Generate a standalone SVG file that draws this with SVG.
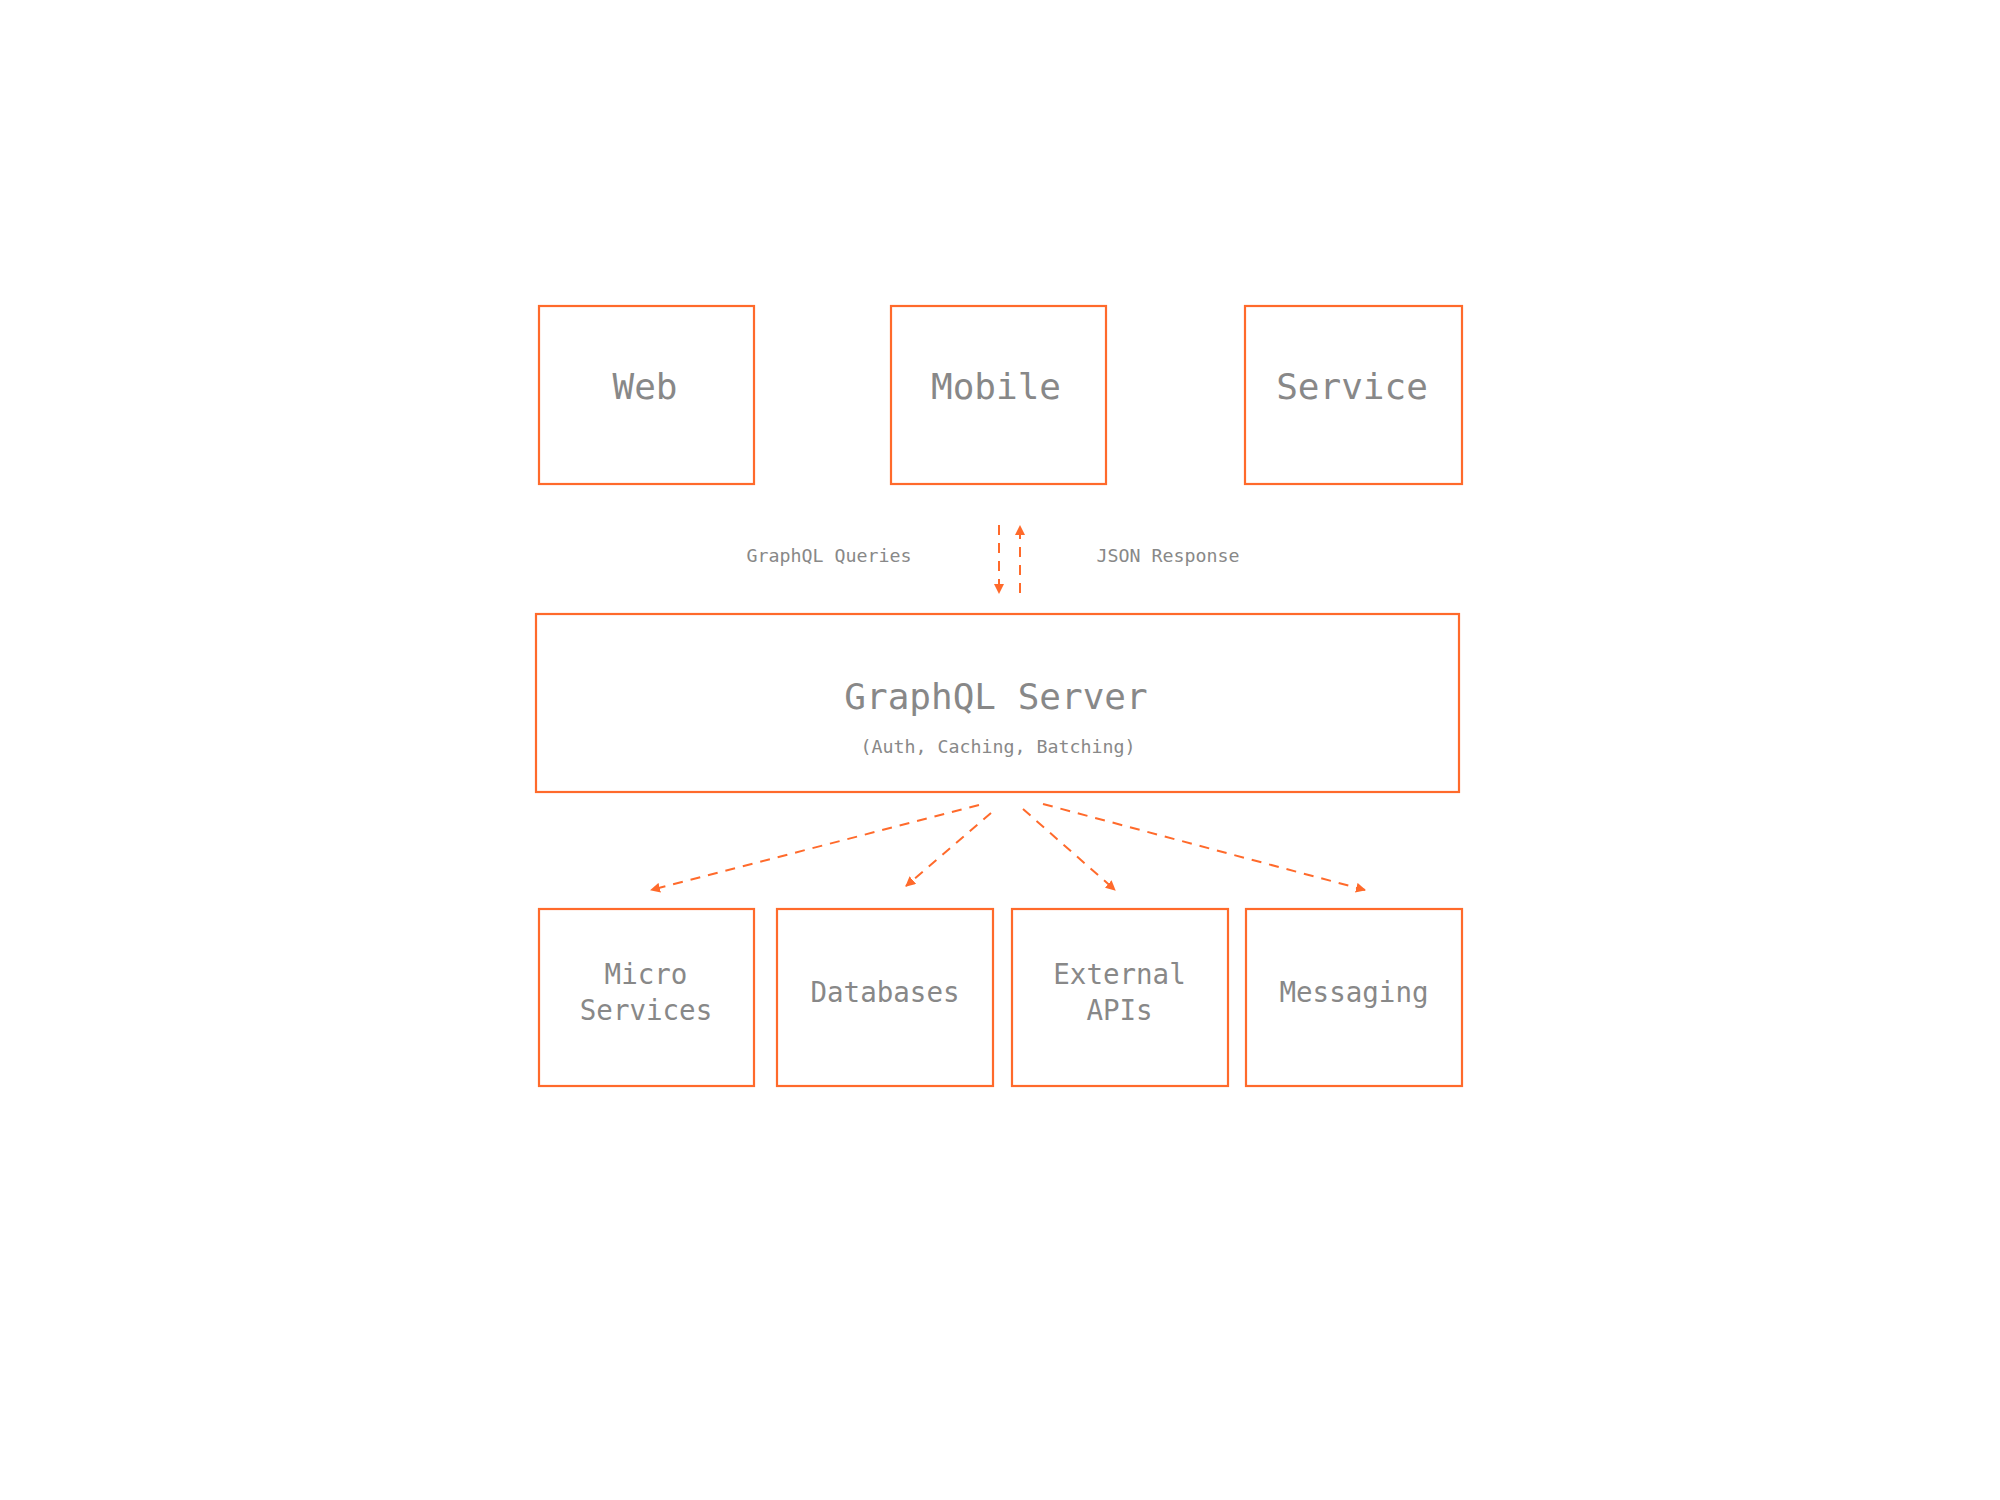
<svg xmlns="http://www.w3.org/2000/svg" width="2000" height="1500" viewBox="0 0 2000 1500">
<style>
.box{fill:#ffffff;stroke:#FF6A2B;stroke-width:2.2}
.t{font-family:"DejaVu Sans Mono","Liberation Mono",monospace;fill:#888888;text-anchor:middle}
.big{font-size:36px}
.mid{font-size:27.5px}
.sm{font-size:18.3px}
.edge{fill:none;stroke:#FF6A2B;stroke-width:2;stroke-dasharray:10,8}
</style>
<defs>
<marker id="ah" viewBox="0 0 10 10" refX="9" refY="5" markerWidth="10" markerHeight="10" markerUnits="userSpaceOnUse" orient="auto">
<path d="M0,0 L10,5 L0,10 z" fill="#FF6A2B"/>
</marker>
</defs>
<rect width="2000" height="1500" fill="#ffffff"/>
<g id="web"><rect class="box" x="539" y="306" width="215" height="178"/><text class="t big" x="645" y="399">Web</text></g>
<g id="mobile"><rect class="box" x="891" y="306" width="215" height="178"/><text class="t big" x="996" y="399">Mobile</text></g>
<g id="service"><rect class="box" x="1245" y="306" width="217" height="178"/><text class="t big" x="1352" y="399">Service</text></g>
<g id="server"><rect class="box" x="536" y="614" width="923" height="178"/><text class="t big" x="996" y="708.5">GraphQL Server</text><text class="t sm" x="998" y="753">(Auth, Caching, Batching)</text></g>
<g id="micro"><rect class="box" x="539" y="909" width="215" height="177"/><text class="t mid" x="646" y="984">Micro</text><text class="t mid" x="646" y="1020">Services</text></g>
<g id="databases"><rect class="box" x="777" y="909" width="216" height="177"/><text class="t mid" x="885" y="1002">Databases</text></g>
<g id="external"><rect class="box" x="1012" y="909" width="216" height="177"/><text class="t mid" x="1119.5" y="984">External</text><text class="t mid" x="1119.5" y="1020">APIs</text></g>
<g id="messaging"><rect class="box" x="1246" y="909" width="216" height="177"/><text class="t mid" x="1354" y="1002">Messaging</text></g>
<g id="labels"><text class="t sm" x="829" y="562">GraphQL Queries</text><text class="t sm" x="1168" y="562">JSON Response</text></g>
<g id="connectors">
<line class="edge" x1="999" y1="525" x2="999" y2="593" marker-end="url(#ah)"/>
<line class="edge" x1="1020" y1="593" x2="1020" y2="526" marker-end="url(#ah)"/>
<line class="edge" x1="979" y1="805" x2="651" y2="890" marker-end="url(#ah)"/>
<line class="edge" x1="991" y1="813" x2="906" y2="886" marker-end="url(#ah)"/>
<line class="edge" x1="1023" y1="809" x2="1115" y2="890" marker-end="url(#ah)"/>
<line class="edge" x1="1043" y1="804" x2="1365" y2="890" marker-end="url(#ah)"/>
</g>
</svg>
